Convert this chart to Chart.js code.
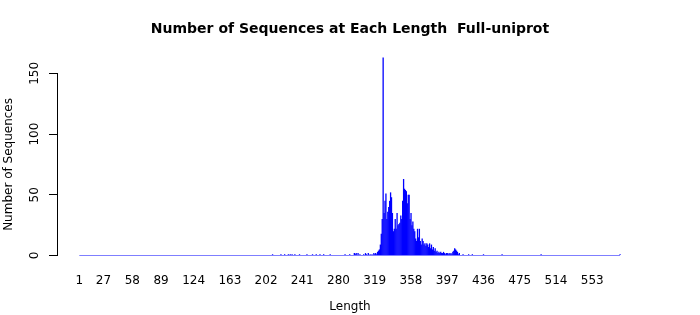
<!DOCTYPE html>
<html>
<head>
<meta charset="utf-8">
<script src="https://cdn.jsdelivr.net/npm/chart.js@4/dist/chart.umd.min.js"></script>
<style>
  body { margin: 0; background: #fff; }
  canvas { display: block; }
</style>
</head>
<body>
<canvas id="lengthChart" width="700" height="315"></canvas>
<script>
/* ======================================================
   SEQUENCE LENGTH HISTOGRAM
====================================================== */

// sequence lengths that occur, and how many sequences have each
const lengths = [
    209, 218, 222, 226, 228, 230, 233, 238, 246, 252, 256, 260, 264, 271, 287, 292,
    297, 298, 299, 301, 303, 307, 309, 310, 312, 314, 316, 318, 319, 320, 321, 322, 323,
    324, 325, 326, 327, 328, 329, 330, 331, 332, 333, 334, 335, 336, 337, 338, 339, 340,
    341, 342, 343, 344, 345, 346, 347, 348, 349, 350, 351, 352, 353, 354, 355, 356, 357,
    358, 359, 360, 361, 362, 363, 364, 365, 366, 367, 368, 369, 370, 371, 372, 373, 374,
    375, 376, 377, 378, 379, 380, 381, 382, 383, 384, 385, 386, 387, 388, 389, 390, 391,
    392, 393, 394, 395, 396, 397, 398, 399, 400, 401, 402, 403, 404, 405, 406, 407, 408,
    409, 410, 414, 420, 424, 436, 456, 498, 583
];
const counts = [
    1, 1, 1, 1, 1, 1, 1, 1, 1, 1, 1, 1, 1, 1, 1, 1,
    2, 1, 2, 2, 1, 1, 2, 1, 2, 1, 1, 2, 1, 2, 1, 3, 4,
    5, 9, 18, 30, 163, 35, 45, 51, 30, 36, 40, 45, 52, 48, 35, 20, 22,
    30, 22, 35, 25, 26, 27, 33, 30, 45, 63, 55, 54, 53, 43, 50, 50, 30,
    35, 25, 28, 22, 20, 14, 12, 22, 15, 22, 12, 9, 14, 12, 9, 10, 8,
    10, 9, 7, 10, 6, 9, 5, 7, 4, 6, 3, 4, 2, 3, 2, 3, 2,
    2, 3, 2, 1, 2, 2, 1, 2, 1, 2, 1, 3, 4, 6, 5, 4, 3,
    1, 2, 1, 1, 1, 1, 1, 1, 1
];
const lengthRange = [1, 583];
const xTicks = [1, 27, 58, 89, 124, 163, 202, 241, 280, 319, 358, 397, 436, 475, 514, 553];
const yTicks = [0, 50, 100, 150];

const FONT = '"DejaVu Sans", Verdana, sans-serif';

// R style labels: y ticks rotated, x title centred on the page
const rLabels = {
    id: 'rLabels',
    afterDraw(chart) {
        const ctx = chart.ctx;
        const y = chart.scales.y;
        ctx.save();
        ctx.font = '12px ' + FONT;
        ctx.fillStyle = '#000';
        ctx.textAlign = 'center';
        ctx.textBaseline = 'middle';
        yTicks.forEach(v => {
            ctx.save();
            ctx.translate(35, y.getPixelForValue(v));
            ctx.rotate(-Math.PI / 2);
            ctx.fillText(String(v), 0, 0);
            ctx.restore();
        });
        ctx.fillText('Length', chart.width / 2, 307);
        ctx.restore();
    }
};

const ctx = document.getElementById('lengthChart').getContext('2d');

new Chart(ctx, {
    data: {
        datasets: [
            {
                type: 'bar',
                data: lengths.map((l, i) => ({ x: l, y: counts[i] })),
                backgroundColor: '#0000ff',
                borderWidth: 0,
                barPercentage: 1.4,
                categoryPercentage: 1,
                clip: false
            },
            {
                type: 'line',
                data: lengthRange.map(l => ({ x: l, y: 0 })),
                borderColor: '#0000ff',
                borderWidth: 1,
                pointRadius: 0
            }
        ]
    },
    options: {
        responsive: false,
        animation: false,
        layout: { padding: 0 },
        plugins: {
            legend: { display: false },
            tooltip: { enabled: false },
            title: {
                display: true,
                text: 'Number of Sequences at Each Length  Full-uniprot',
                color: '#000',
                font: { family: FONT, size: 14, weight: 'bold' },
                padding: { top: 20.6, bottom: 36 }
            }
        },
        scales: {
            x: {
                type: 'linear',
                offset: false,
                min: -23,
                max: 669,
                afterBuildTicks: scale => { scale.ticks = xTicks.map(v => ({ value: v })); },
                afterFit: scale => { scale.height = 59.5; },
                grid: { display: false, drawTicks: false },
                border: { display: false },
                ticks: {
                    autoSkip: false,
                    maxRotation: 0,
                    padding: 18.5,
                    color: '#000',
                    font: { family: FONT, size: 12 },
                    callback: v => String(v)
                }
            },
            y: {
                min: 0,
                max: 150,
                afterBuildTicks: scale => { scale.ticks = yTicks.map(v => ({ value: v })); },
                afterFit: scale => { scale.width = 57; },
                grid: { drawOnChartArea: false, drawTicks: true, tickLength: 8, color: '#000' },
                border: { display: true, color: '#000' },
                ticks: { display: false },
                title: {
                    display: true,
                    text: 'Number of Sequences',
                    color: '#000',
                    font: { family: FONT, size: 12 },
                    padding: { top: 2, bottom: 2 }
                }
            }
        }
    },
    plugins: [rLabels]
});
</script>
</body>
</html>
